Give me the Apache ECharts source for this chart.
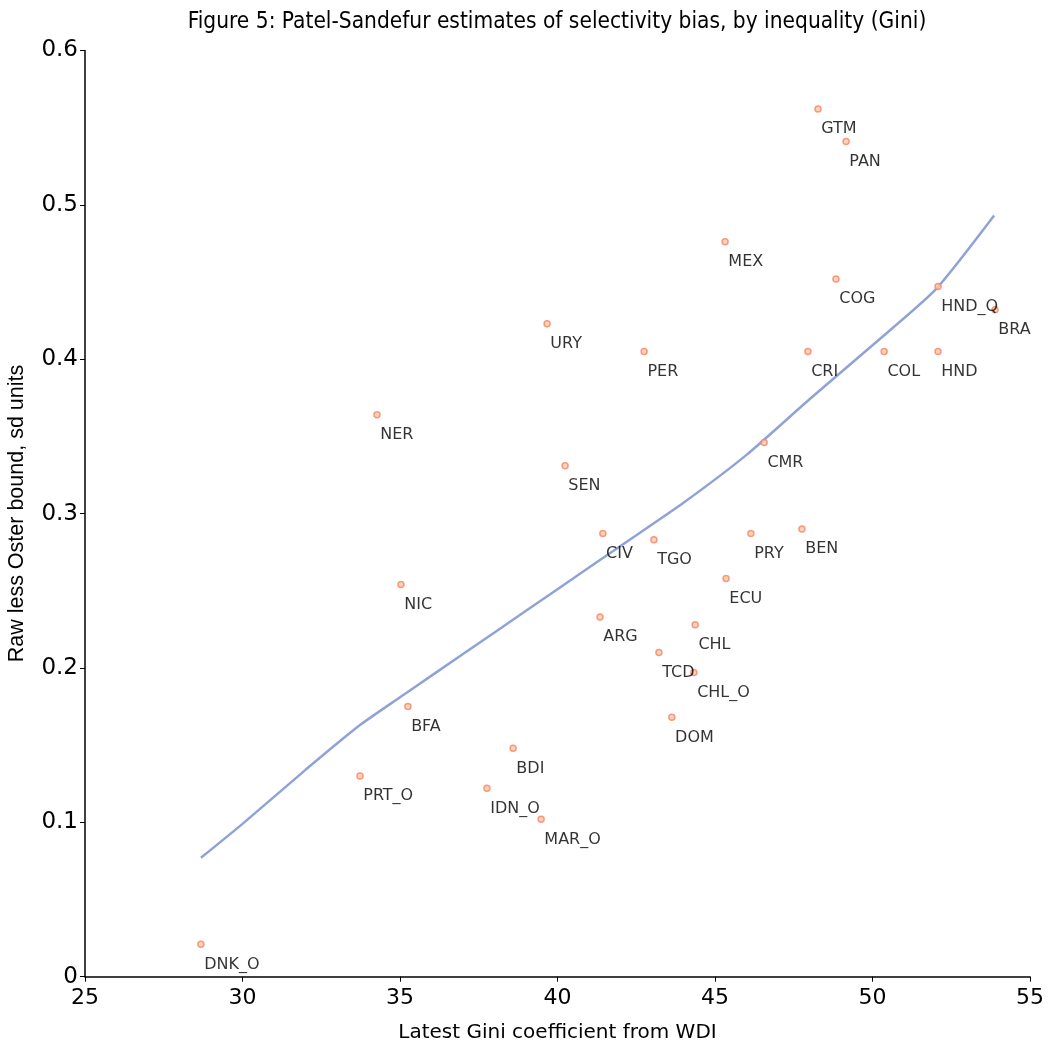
<!DOCTYPE html>
<html>
<head>
<meta charset="utf-8">
<script src="https://cdn.jsdelivr.net/npm/echarts@6/dist/echarts.min.js"></script>
<style>
  html, body { margin: 0; padding: 0; background: #fff; }
  #chart { width: 1050px; height: 1046px; }
</style>
</head>
<body>
<div id="chart"></div>
<script type="text/javascript">
// country codes, Gini (x) and raw less Oster bound (y)
var countries = ['DNK_O','PRT_O','NER','NIC','BFA','IDN_O','BDI','MAR_O','URY','SEN',
                 'ARG','CIV','PER','TGO','TCD','DOM','CHL_O','CHL','MEX','ECU',
                 'PRY','CMR','BEN','CRI','GTM','COG','PAN','COL','HND','HND_Q','BRA'];
var gini = [28.68,33.73,34.27,35.03,35.25,37.76,38.59,39.48,39.67,40.24,
            41.35,41.44,42.75,43.06,43.22,43.63,44.33,44.37,45.32,45.35,
            46.14,46.56,47.76,47.95,48.27,48.84,49.16,50.37,52.08,52.08,53.89];
var bias = [0.021,0.130,0.364,0.254,0.175,0.122,0.148,0.102,0.423,0.331,
            0.233,0.287,0.405,0.283,0.210,0.168,0.197,0.228,0.476,0.258,
            0.287,0.346,0.290,0.405,0.562,0.452,0.541,0.405,0.405,0.447,0.432];

// smoothed fit line
var fitX = [28.68,30,32,33.73,35,36,38,40,42,44,46,48,50,52,53.86];
var fitY = [0.077,0.099,0.134,0.163,0.181,0.195,0.223,0.251,0.279,0.307,0.338,0.374,0.409,0.445,0.493];

var pts = [];
for (var i = 0; i < countries.length; i++) {
  pts.push([gini[i], bias[i], countries[i]]);
}
var fit = [];
for (var j = 0; j < fitX.length; j++) {
  fit.push([fitX[j], fitY[j]]);
}

var mychart = echarts.init(document.getElementById('chart'));
var option = {
  animation: false,
  backgroundColor: '#ffffff',
  title: {
    text: 'Figure 5: Patel-Sandefur estimates of selectivity bias, by inequality (Gini)',
    left: 552,
    textAlign: 'center',
    top: 6,
    textStyle: { fontFamily: 'DejaVu Sans Condensed, DejaVu Sans', fontSize: 22.5, fontWeight: 'normal', color: '#000' }
  },
  grid: { left: 85, right: 20, top: 50.4, bottom: 69.3, containLabel: false, outerBoundsMode: 'none' },
  xAxis: {
    type: 'value',
    min: 25, max: 55, interval: 5,
    name: 'Latest Gini coefficient from WDI',
    nameLocation: 'middle',
    nameGap: 46,
    nameTextStyle: { fontFamily: 'DejaVu Sans', fontSize: 20, color: '#000' },
    axisLine: { lineStyle: { color: '#000', width: 1.5 } },
    axisTick: { show: true, length: 5, lineStyle: { color: '#000' } },
    axisLabel: { fontFamily: 'DejaVu Sans', fontSize: 22, color: '#000', margin: 11 },
    splitLine: { show: false }
  },
  yAxis: {
    type: 'value',
    min: 0, max: 0.6, interval: 0.1,
    name: 'Raw less Oster bound, sd units',
    nameLocation: 'middle',
    nameGap: 57,
    nameTextStyle: { fontFamily: 'Liberation Sans', fontSize: 21.5, color: '#000' },
    axisLine: { show: true, lineStyle: { color: '#000', width: 1.5 } },
    axisTick: { show: true, length: 5, lineStyle: { color: '#000' } },
    axisLabel: { fontFamily: 'DejaVu Sans', fontSize: 23, color: '#000', margin: 7 },
    splitLine: { show: false }
  },
  series: [
    {
      type: 'line',
      data: fit,
      showSymbol: false,
      smooth: 0.2,
      lineStyle: { color: '#8fa3d6', width: 2.5 },
      z: 1
    },
    {
      type: 'scatter',
      data: pts,
      symbol: 'circle',
      symbolSize: 6,
      itemStyle: { color: '#fcc8b3', borderColor: '#f7855d', borderWidth: 1.5 },
      label: {
        show: true,
        position: [7, 24],
        align: 'left',
        verticalAlign: 'middle',
        formatter: function (p) { return p.data[2]; },
        fontFamily: 'DejaVu Sans',
        fontSize: 16,
        color: '#000'
      },
      z: 2
    }
  ]
};
mychart.setOption(option);
</script>
</body>
</html>
